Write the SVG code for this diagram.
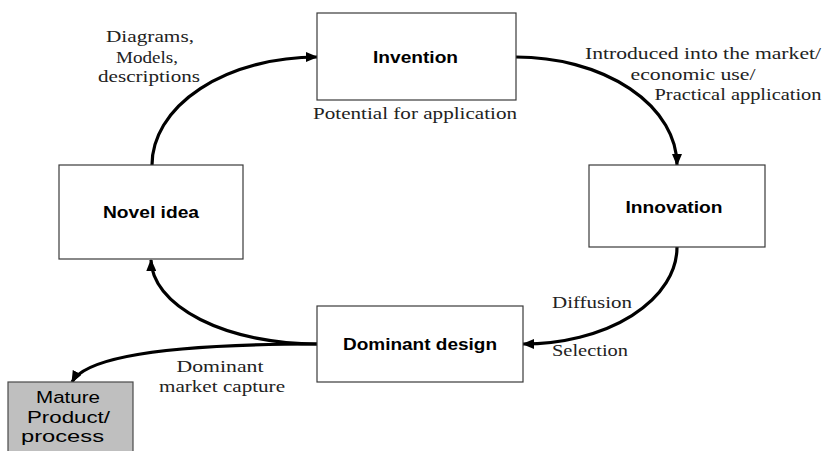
<svg xmlns="http://www.w3.org/2000/svg" width="826" height="451" viewBox="0 0 826 451">
  <style>
    .box { fill: #ffffff; stroke: #3a3a3a; stroke-width: 1.2; }
    .box.grey { fill: #bfbfbf; stroke: #4a4a4a; }
    .title { font-family: "Liberation Sans", Arial, sans-serif; font-weight: bold; font-size: 16px; fill: #000; text-anchor: middle; }
    .plain { font-family: "Liberation Sans", Arial, sans-serif; font-size: 16px; fill: #000; text-anchor: middle; }
    .note { font-family: "Liberation Serif", "Times New Roman", serif; font-size: 17px; fill: #222; text-anchor: middle; }
    .link { fill: none; stroke: #000; stroke-width: 3.2; marker-end: url(#head); }
  </style>
  <defs>
    <marker id="head" markerUnits="userSpaceOnUse" markerWidth="12" markerHeight="10" refX="11" refY="5" orient="auto">
      <path d="M0,0 L12,5 L0,10 Z" fill="#000"/>
    </marker>
  </defs>

  <rect width="826" height="451" fill="#ffffff"/>

  <!-- connectors -->
  <g id="connectors">
    <path class="link" d="M152,165 A165,108 0 0 1 317,57"/>
    <path class="link" d="M516,57 A161,108 0 0 1 677,165"/>
    <path class="link" d="M677,247 A154,97 0 0 1 523,344"/>
    <path class="link" d="M317,344 A166,85 0 0 1 151,260"/>
    <path class="link" d="M317,344 C200,344 88,352 72,382"/>
  </g>

  <!-- connector labels -->
  <g id="labels">
    <text class="note" x="150" y="42" textLength="88" lengthAdjust="spacingAndGlyphs">Diagrams,</text>
    <text class="note" x="147" y="63" textLength="62" lengthAdjust="spacingAndGlyphs">Models,</text>
    <text class="note" x="149" y="82" textLength="102" lengthAdjust="spacingAndGlyphs">descriptions</text>
    <text class="note" x="415" y="119" textLength="204" lengthAdjust="spacingAndGlyphs">Potential for application</text>
    <text class="note" x="703" y="59" textLength="236" lengthAdjust="spacingAndGlyphs">Introduced into the market/</text>
    <text class="note" x="693" y="80" textLength="125" lengthAdjust="spacingAndGlyphs">economic use/</text>
    <text class="note" x="738" y="100" textLength="167" lengthAdjust="spacingAndGlyphs">Practical application</text>
    <text class="note" x="592" y="308" textLength="80" lengthAdjust="spacingAndGlyphs">Diffusion</text>
    <text class="note" x="590" y="356" textLength="76" lengthAdjust="spacingAndGlyphs">Selection</text>
    <text class="note" x="220" y="372" textLength="87" lengthAdjust="spacingAndGlyphs">Dominant</text>
    <text class="note" x="222" y="392" textLength="126" lengthAdjust="spacingAndGlyphs">market capture</text>
  </g>

  <!-- nodes -->
  <g id="invention">
    <rect class="box" x="317" y="13" width="199" height="87"/>
    <text class="title" x="415.5" y="63" textLength="85" lengthAdjust="spacingAndGlyphs">Invention</text>
  </g>
  <g id="innovation">
    <rect class="box" x="589" y="165" width="176" height="82"/>
    <text class="title" x="674" y="213" textLength="97" lengthAdjust="spacingAndGlyphs">Innovation</text>
  </g>
  <g id="novel-idea">
    <rect class="box" x="59" y="165" width="184" height="94"/>
    <text class="title" x="151" y="218" textLength="96" lengthAdjust="spacingAndGlyphs">Novel idea</text>
  </g>
  <g id="dominant-design">
    <rect class="box" x="317" y="306" width="206" height="76"/>
    <text class="title" x="420" y="350" textLength="154" lengthAdjust="spacingAndGlyphs">Dominant design</text>
  </g>
  <g id="mature-product">
    <rect class="box grey" x="8" y="382" width="125" height="80"/>
    <text class="plain" x="68" y="403" textLength="64" lengthAdjust="spacingAndGlyphs">Mature</text>
    <text class="plain" x="68.5" y="423" textLength="83" lengthAdjust="spacingAndGlyphs">Product/</text>
    <text class="plain" x="62.5" y="442" textLength="83" lengthAdjust="spacingAndGlyphs">process</text>
  </g>
</svg>
